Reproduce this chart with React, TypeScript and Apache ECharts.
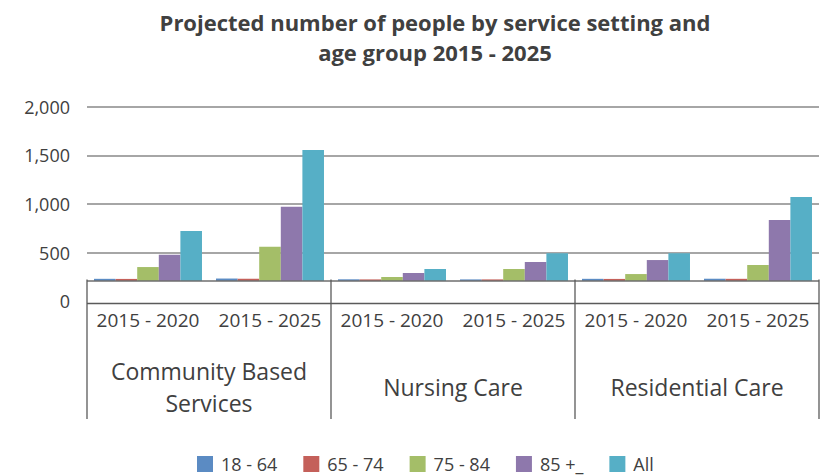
import React, { useEffect, useRef } from "react";
import * as echarts from "echarts";

const periods = ["2015 - 2020", "2015 - 2025", "2015 - 2020", "2015 - 2025", "2015 - 2020", "2015 - 2025"];
const settings = ["Community Based\nServices", "Nursing Care", "Residential Care"];
const seriesNames = ["18 - 64", "65 - 74", "75 - 84", "85 +_", "All"];
const age18to64 = [231, 234, 226, 225, 231, 232];
const age65to74 = [230, 231, 225, 225, 230, 231];
const age75to84 = [352, 561, 250, 332, 280, 373];
const age85plus = [479, 972, 291, 404, 424, 835];
const allAges = [722, 1555, 332, 494, 494, 1071];
const yTicks = { min: 0, max: 2000, interval: 500 };
const colors = ["#5B8BC3", "#C4605A", "#A4BE68", "#8E78AC", "#56AFC6"];

const FONT = "'Open Sans', 'Noto Sans', sans-serif";
const TXT = "#404040";

export default function App() {
  const ref = useRef<HTMLDivElement>(null);
  useEffect(() => {
    document.body.style.margin = "0";
    const chart = echarts.init(ref.current!, undefined, { renderer: "svg" });
    const gridLeft = 87;
    const gridRight = 1;
    const gridTop = 106.7;
    const gridBottom = 173.7;
    const W = 820;
    const xL = gridLeft;
    const xR = W - gridRight;
    const groupW = (xR - xL) / settings.length;
    const tableTop = 281;
    const rowLine = 303.5;
    const tableBottom = 419;
    const lineStyle = { stroke: "#5a5a5a", lineWidth: 1.3 };
    const graphics: any[] = [
      { type: "rect", z: 100, shape: { x: xL, y: tableTop, width: xR - xL, height: rowLine - tableTop }, style: { fill: "#ffffff" } },
      { type: "line", z: 101, shape: { x1: xL, y1: tableTop, x2: xR, y2: tableTop }, style: { stroke: "#6e6e6e", lineWidth: 1.5 } },
      { type: "line", z: 101, shape: { x1: xL, y1: rowLine, x2: xR, y2: rowLine }, style: lineStyle },
    ];
    for (let i = 0; i <= settings.length; i++) {
      const x = xL + groupW * i;
      graphics.push({ type: "line", z: 101, shape: { x1: x, y1: tableTop - 1.5, x2: x, y2: tableBottom }, style: lineStyle });
    }
    const data = [age18to64, age65to74, age75to84, age85plus, allAges];
    chart.setOption({
      animation: false,
      color: colors,
      title: {
        text: "Projected number of people by service setting and\nage group 2015 - 2025",
        left: 430,
        top: 2,
        textAlign: "center",
        textStyle: { fontFamily: FONT, fontSize: 22, fontWeight: "bold", color: TXT, lineHeight: 30 },
      },
      legend: {
        left: 197,
        top: 454,
        padding: 0,
        itemWidth: 16,
        itemHeight: 16,
        itemGap: 26,
        icon: "rect",
        data: seriesNames,
        textStyle: { fontFamily: FONT, fontSize: 18, lineHeight: 20, color: TXT, padding: [0, 0, 0, 3] },
      },
      grid: { left: gridLeft, right: gridRight, top: gridTop, bottom: gridBottom, containLabel: false },
      xAxis: [
        {
          type: "category",
          data: periods,
          position: "bottom",
          axisLine: { show: false },
          axisTick: { show: false },
          axisLabel: { interval: 0, margin: 9, fontFamily: FONT, fontSize: 19, color: TXT },
        },
        {
          type: "category",
          data: settings,
          position: "bottom",
          axisLine: { show: false },
          axisTick: { show: false },
          axisLabel: {
            interval: 0,
            margin: 86,
            verticalAlign: "middle",
            lineHeight: 32,
            fontFamily: FONT,
            fontSize: 23,
            color: TXT,
          },
        },
      ],
      yAxis: {
        type: "value",
        min: yTicks.min,
        max: yTicks.max,
        interval: yTicks.interval,
        axisLine: { show: false },
        axisTick: { show: false },
        axisLabel: {
          margin: 17,
          fontFamily: FONT,
          fontSize: 18,
          color: TXT,
          formatter: (v: number) => v.toLocaleString("en-US"),
        },
        splitLine: { lineStyle: { color: "#888888", width: 1.5 } },
      },
      series: seriesNames.map((name, i) => ({
        name,
        type: "bar",
        xAxisIndex: 0,
        data: data[i],
        barGap: "0%",
        barCategoryGap: "11.5%",
      })),
      graphic: graphics,
    });
    return () => chart.dispose();
  }, []);
  return <div ref={ref} style={{ position: "absolute", left: 0, top: 0, width: 820, height: 475 }} />;
}
